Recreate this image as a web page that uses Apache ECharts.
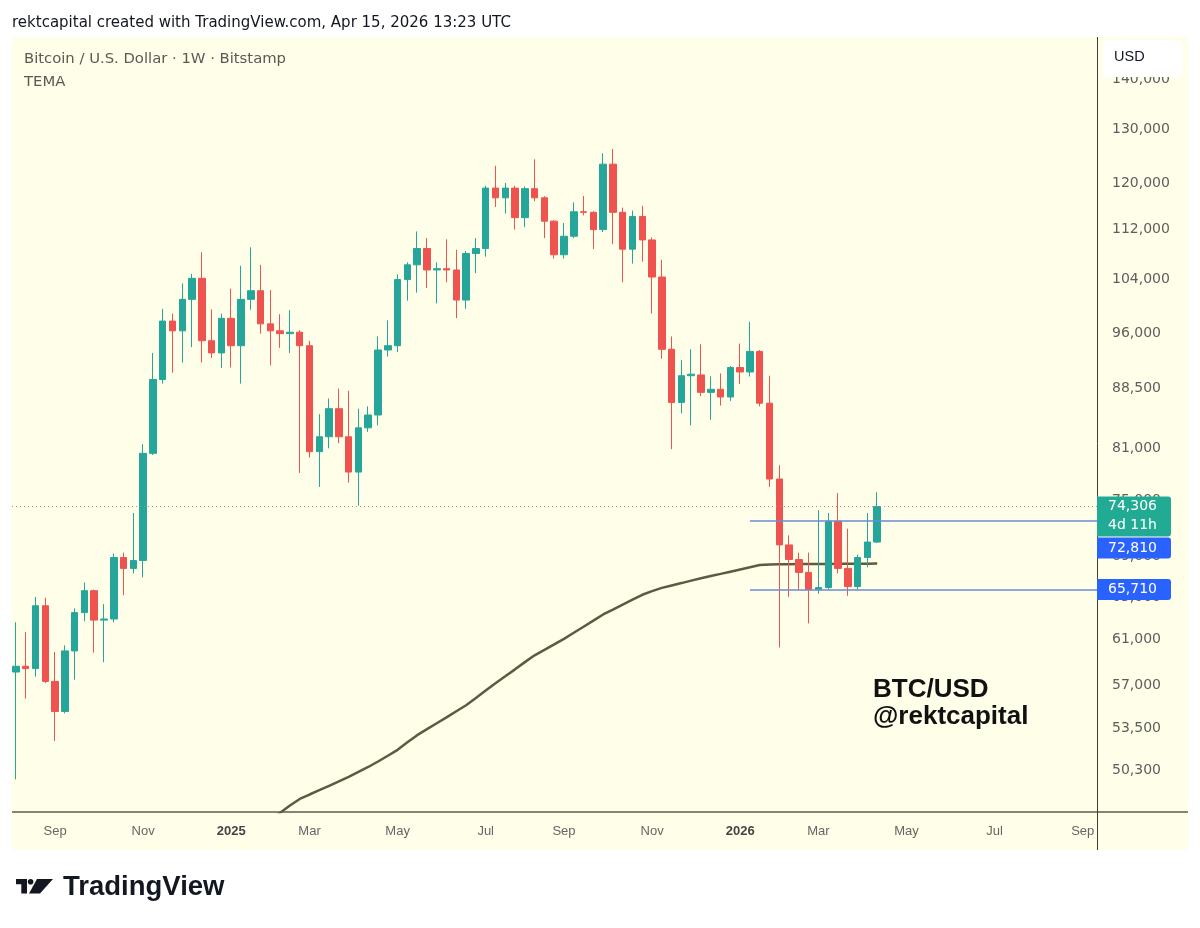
<!DOCTYPE html>
<html>
<head>
<meta charset="utf-8">
<script src="https://cdn.jsdelivr.net/npm/echarts@6/dist/echarts.min.js"></script>
<style>
html,body{margin:0;padding:0;background:#ffffff;}
#c{width:1200px;height:928px;}
</style>
</head>
<body>
<div id="c"></div>
<script>
// ---------------- DATA ----------------
// Weekly candles (Bitstamp BTC/USD), first candle week starting:
const firstWeek = '2024-08-05';
const opens = [
  58150, 58650, 58450, 64150, 57350, 54850, 60000, 63500, 65600, 62800,
  62900, 68900, 67800, 68600, 80400, 89700, 97800, 96400, 101000, 104200,
  95000, 93300, 98200, 94300, 101000, 102300, 97400, 96400, 96000, 96200,
  94300, 80600, 82400, 85900, 82400, 78200, 83500, 85100, 93700, 94300,
  104000, 106300, 108900, 105500, 105700, 105500, 100900, 108100, 108900, 119100,
  117400, 119100, 114000, 119000, 117400, 113400, 107900, 110900, 115000, 114900,
  112000, 123400, 114900, 108800, 114200, 110300, 104400, 93800, 86700, 90200,
  90300, 88000, 88400, 87400, 91300, 90700, 93500, 86600, 77400, 70200,
  68700, 67400, 65700, 65900, 72700, 67800, 66000, 68900, 70500
];
const highs = [
  62600, 61700, 65000, 64900, 59900, 60500, 63900, 66400, 65700, 64300,
  69300, 69400, 73600, 81500, 93300, 99600, 98900, 103400, 104900, 108300,
  99500, 98900, 102600, 106150, 109100, 106300, 102400, 98800, 99400, 96500,
  95000, 85200, 87200, 88500, 88200, 85900, 86200, 95600, 97900, 104800,
  106700, 111700, 110600, 106700, 110400, 108700, 108500, 110600, 119500, 123100,
  120000, 119500, 119400, 124300, 117700, 113600, 113100, 116600, 117700, 115100,
  125400, 126200, 115700, 115200, 116000, 110700, 107100, 95600, 92300, 93800,
  94500, 90100, 90500, 91500, 94600, 97700, 93700, 90200, 79000, 71200,
  69400, 69400, 73900, 73600, 75800, 71900, 69200, 73600, 75900
];
const lows = [
  49600, 55900, 57750, 57200, 52500, 54700, 57500, 62700, 59850, 59000,
  62600, 65150, 67300, 66900, 80200, 89150, 90600, 91950, 94100, 92000,
  92600, 91250, 91300, 89150, 99450, 96000, 91600, 94000, 93300, 78100,
  79900, 76500, 81000, 81600, 77000, 74400, 83000, 83800, 92800, 93400,
  100800, 102000, 102700, 100400, 103600, 98250, 99600, 105000, 107600, 115800,
  114700, 112000, 112400, 116800, 110600, 107300, 107300, 110600, 114400, 108800,
  111600, 109600, 103600, 106500, 106800, 98900, 92500, 80900, 85300, 83800,
  87500, 84500, 86300, 86900, 89100, 90100, 86200, 76500, 60300, 65000,
  65700, 62500, 65300, 65700, 67300, 65100, 65700, 67900, 70400
];
const closes = [
  58650, 58450, 64150, 57350, 54850, 60000, 63500, 65600, 62800, 62900,
  68900, 67800, 68600, 80400, 89700, 97800, 96400, 101000, 104200, 95000,
  93300, 98200, 94300, 101000, 102300, 97400, 96400, 96000, 96200, 94300,
  80600, 82400, 85900, 82400, 78200, 83500, 85100, 93700, 94300, 104000,
  106300, 108900, 105500, 105700, 105500, 100900, 108100, 108900, 119100, 117400,
  119100, 114000, 119000, 117400, 113400, 107900, 110900, 115000, 114900, 112000,
  123400, 114900, 108800, 114200, 110300, 104400, 93800, 86700, 90200, 90400,
  88000, 88400, 87400, 91300, 90700, 93500, 86600, 77400, 70200, 68700,
  67400, 65700, 65900, 72700, 67800, 66000, 68900, 70500, 74306
];
// TEMA indicator, weekly, first value on week starting:
const temaStart = '2025-01-27';
const temaValues = [
  46220, 46700, 47210, 47720, 48180, 48500, 48810, 49130, 49460, 49790,
  50160, 50520, 50930, 51370, 51820, 52400, 52960, 53430, 53900, 54370,
  54870, 55360, 55950, 56580, 57190, 57780, 58380, 59010, 59610, 60090,
  60580, 61080, 61630, 62180, 62750, 63330, 63790, 64260, 64730, 65200,
  65550, 65870, 66110, 66340, 66580, 66810, 67040, 67250, 67470, 67690,
  67910, 68140, 68190, 68220, 68230, 68240, 68240, 68250, 68250, 68260,
  68260, 68270, 68280, 68290
];
// Horizontal levels drawn from this week onwards
const levelStart = '2026-01-12';
const levelValues = [72810, 65710];
const lastPrice = 74306;
const countdownText = '4d 11h';
// Axis ticks
const priceTicks = [50300, 53500, 57000, 61000, 65000, 69000, 75000, 81000, 88500, 96000, 104000, 112000, 120000, 130000, 140000];
const monthTickDates = ['2024-09-02','2024-11-04','2025-01-06','2025-03-03','2025-05-05','2025-07-07','2025-09-01','2025-11-03','2026-01-05','2026-03-02','2026-05-04','2026-07-06','2026-09-07'];
const monthTickLabels = ['Sep','Nov','2025','Mar','May','Jul','Sep','Nov','2026','Mar','May','Jul','Sep'];
const viewStart = '2024-08-02T05:00:00';
const viewEnd = '2026-09-17T05:00:00';
const priceMin = 47260, priceMax = 148980;

// ---------------- HELPERS ----------------
const WEEK = 7 * 86400000;
function ts(s) { return new Date(s.length > 10 ? s : s + 'T00:00:00').getTime(); }
function fmt(v) { return String(Math.round(v)).replace(/\B(?=(\d{3})+(?!\d))/g, ','); }

const t0 = ts(firstWeek);
const candleData = opens.map((o, i) => [t0 + i * WEEK, o, closes[i], lows[i], highs[i]]);
const ta = ts(temaStart);
const temaData = temaValues.map((v, i) => [ta + i * WEEK, v]);
const tickTimes = monthTickDates.map(ts);
const xMin = ts(viewStart), xMax = ts(viewEnd);

const UP = '#26a69a', DOWN = '#ef5350', LEVEL = '#6b8ad6';
const chart = echarts.init(document.getElementById('c'));

const option = {
  animation: false,
  backgroundColor: '#ffffff',
  grid: { left: 12, right: 103, top: 37, bottom: 116 },
  xAxis: {
    type: 'value', min: xMin, max: xMax, scale: true,
    axisLine: { show: false }, axisTick: { show: false }, splitLine: { show: false },
    axisLabel: {
      customValues: tickTimes,
      hideOverlap: false,
      margin: 13,
      color: '#666666', fontSize: 13, fontFamily: 'Liberation Sans, Arial, sans-serif',
      formatter: function (val) {
        let idx = -1, best = Infinity;
        tickTimes.forEach((t, i) => { const d = Math.abs(t - val); if (d < best) { best = d; idx = i; } });
        const l = monthTickLabels[idx];
        return /^\d{4}$/.test(l) ? '{y|' + l + '}' : l;
      },
      rich: { y: { fontWeight: 'bold', color: '#444444', fontSize: 13, fontFamily: 'Liberation Sans, Arial, sans-serif' } }
    }
  },
  yAxis: {
    type: 'log', logBase: 10, min: priceMin, max: priceMax, position: 'right',
    axisLine: { show: false }, axisTick: { show: false }, splitLine: { show: false },
    axisLabel: {
      customValues: priceTicks,
      hideOverlap: false,
      margin: 15, color: '#5e5e5e', fontSize: 14, fontFamily: 'DejaVu Sans, sans-serif',
      formatter: v => fmt(v)
    }
  },
  series: [
    {
      name: 'TEMA', type: 'line', data: temaData, showSymbol: false, symbol: 'none',
      lineStyle: { color: '#5d5b3f', width: 2.5 }, z: 3, silent: true
    },
    {
      name: 'BTCUSD', type: 'candlestick', data: candleData,
      encode: { x: 0, y: [1, 2, 3, 4] },
      barWidth: 7, z: 4,
      itemStyle: { color: UP, color0: DOWN, borderColor: UP, borderColor0: DOWN, borderWidth: 1 },
      markLine: {
        silent: true, symbol: ['none', 'none'], label: { show: false }, animation: false,
        data: [
          { yAxis: lastPrice, lineStyle: { type: [1, 3], color: '#9a9a90', width: 1 } },
          [{ coord: [ts(levelStart), levelValues[0]], lineStyle: { color: LEVEL, width: 1.5, type: 'solid' } }, { coord: [xMax, levelValues[0]] }],
          [{ coord: [ts(levelStart), levelValues[1]], lineStyle: { color: LEVEL, width: 1.5, type: 'solid' } }, { coord: [xMax, levelValues[1]] }]
        ]
      }
    }
  ]
};
chart.setOption(option);

// price tags & decorations
const yOf = v => chart.convertToPixel({ yAxisIndex: 0 }, v);
const yLast = yOf(lastPrice);
const tag1Top = yLast - 10, tag1H = 40;
const tag2Top = Math.max(yOf(levelValues[0]) - 10, tag1Top + tag1H + 1), tagH = 21;
const tag3Top = yOf(levelValues[1]) - 10.5;
const TAGX = 1097, TAGW = 74;
const font = 'DejaVu Sans, sans-serif';

chart.setOption({
  graphic: [
    { type: 'rect', silent: true, z: -100, shape: { x: 12, y: 37, width: 1176, height: 813 }, style: { fill: '#fefee9' } },
    { type: 'line', silent: true, z: 50, shape: { x1: 12, y1: 812, x2: 1188, y2: 812 }, style: { stroke: '#5b5b50', lineWidth: 1.5 } },
    { type: 'line', silent: true, z: 50, shape: { x1: 1097.5, y1: 37, x2: 1097.5, y2: 850 }, style: { stroke: '#3f3f38', lineWidth: 1 } },
    { type: 'text', silent: true, z: 50, style: { x: 12, y: 23, text: 'rektcapital created with TradingView.com, Apr 15, 2026 13:23 UTC', fill: '#131722', font: '15px DejaVu Sans, sans-serif', verticalAlign: 'middle' } },
    { type: 'text', silent: true, z: 50, style: { x: 24, y: 59, text: 'Bitcoin / U.S. Dollar · 1W · Bitstamp', fill: '#5a5a55', font: '14.8px DejaVu Sans, sans-serif', verticalAlign: 'middle' } },
    { type: 'text', silent: true, z: 50, style: { x: 24, y: 82, text: 'TEMA', fill: '#5a5a55', font: '14.8px DejaVu Sans, sans-serif', verticalAlign: 'middle' } },
    { type: 'rect', silent: true, z: 60, shape: { x: 1103, y: 40, width: 80, height: 37, r: 6 }, style: { fill: '#ffffff' } },
    { type: 'text', silent: true, z: 61, style: { x: 1114, y: 57, text: 'USD', fill: '#131722', font: '14.5px Liberation Sans, Arial, sans-serif', verticalAlign: 'middle' } },
    { type: 'rect', silent: true, z: 60, shape: { x: TAGX, y: tag1Top, width: TAGW, height: tag1H, r: [0, 3, 3, 0] }, style: { fill: '#22ab94' } },
    { type: 'text', silent: true, z: 61, style: { x: 1108, y: yLast, text: fmt(lastPrice), fill: '#ffffff', font: '14px ' + font, verticalAlign: 'middle' } },
    { type: 'text', silent: true, z: 61, style: { x: 1108, y: yLast + 19, text: countdownText, fill: '#ffffff', font: '14px ' + font, verticalAlign: 'middle' } },
    { type: 'rect', silent: true, z: 60, shape: { x: TAGX, y: tag2Top, width: TAGW, height: tagH, r: [0, 3, 3, 0] }, style: { fill: '#2962ff' } },
    { type: 'text', silent: true, z: 61, style: { x: 1108, y: tag2Top + tagH / 2, text: fmt(levelValues[0]), fill: '#ffffff', font: '14px ' + font, verticalAlign: 'middle' } },
    { type: 'rect', silent: true, z: 60, shape: { x: TAGX, y: tag3Top, width: TAGW, height: tagH, r: [0, 3, 3, 0] }, style: { fill: '#2962ff' } },
    { type: 'text', silent: true, z: 61, style: { x: 1108, y: tag3Top + tagH / 2, text: fmt(levelValues[1]), fill: '#ffffff', font: '14px ' + font, verticalAlign: 'middle' } },
    { type: 'text', silent: true, z: 50, style: { x: 873, y: 690, text: 'BTC/USD', fill: '#111111', font: 'bold 26px Liberation Sans, Arial, sans-serif', verticalAlign: 'middle' } },
    { type: 'text', silent: true, z: 50, style: { x: 873, y: 717, text: '@rektcapital', fill: '#111111', font: 'bold 26px Liberation Sans, Arial, sans-serif', verticalAlign: 'middle' } },
    // TradingView logo
    { type: 'polygon', silent: true, z: 50, shape: { points: [[16, 879], [27, 879], [27, 893.5], [21.3, 893.5], [21.3, 884.3], [16, 884.3]] }, style: { fill: '#131722' } },
    { type: 'circle', silent: true, z: 50, shape: { cx: 30.6, cy: 881.8, r: 2.8 }, style: { fill: '#131722' } },
    { type: 'polygon', silent: true, z: 50, shape: { points: [[37, 879], [53, 879], [40, 893.5], [29, 893.5]] }, style: { fill: '#131722' } },
    { type: 'text', silent: true, z: 50, style: { x: 63, y: 887, text: 'TradingView', fill: '#131722', font: 'bold 27.5px Liberation Sans, Arial, sans-serif', verticalAlign: 'middle' } }
  ]
});
</script>
</body>
</html>
